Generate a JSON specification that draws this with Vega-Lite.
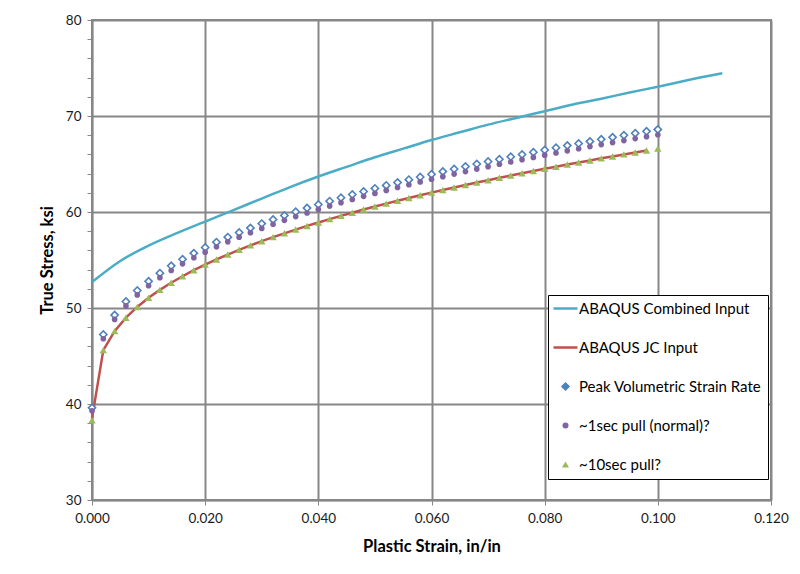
{
  "$schema": "https://vega.github.io/schema/vega-lite/v6.json",
  "width": 679,
  "height": 480,
  "autosize": {"type": "none"},
  "padding": {"left": 92, "top": 20, "right": 29, "bottom": 74},
  "background": "#ffffff",
  "config": {
    "font": "Lato",
    "view": {"stroke": "#878787", "strokeWidth": 2},
    "axis": {
      "domainColor": "#878787",
      "domainWidth": 1.5,
      "tickColor": "#878787",
      "tickSize": 5,
      "tickWidth": 1,
      "gridColor": "#878787",
      "gridWidth": 2,
      "labelFont": "Lato",
      "labelFontSize": 13.5,
      "labelColor": "#1a1a1a",
      "titleFont": "Lato",
      "titleFontSize": 16.5,
      "titleFontWeight": "bold",
      "titleColor": "#000000"
    }
  },
  "datasets": {
    "markers": [
      {"x": 0, "D": 39.6, "P": 39.3, "T": 38.3, "R": 38.5},
      {"x": 0.002, "D": 47.24, "P": 46.8, "T": 45.61, "R": 45.61},
      {"x": 0.004, "D": 49.26, "P": 48.81, "T": 47.59, "R": 47.59},
      {"x": 0.006, "D": 50.68, "P": 50.22, "T": 48.99, "R": 48.99},
      {"x": 0.008, "D": 51.82, "P": 51.36, "T": 50.11, "R": 50.11},
      {"x": 0.01, "D": 52.78, "P": 52.32, "T": 51.06, "R": 51.06},
      {"x": 0.012, "D": 53.63, "P": 53.16, "T": 51.89, "R": 51.89},
      {"x": 0.014, "D": 54.39, "P": 53.91, "T": 52.63, "R": 52.63},
      {"x": 0.016, "D": 55.08, "P": 54.6, "T": 53.31, "R": 53.31},
      {"x": 0.018, "D": 55.71, "P": 55.23, "T": 53.94, "R": 53.94},
      {"x": 0.02, "D": 56.3, "P": 55.82, "T": 54.52, "R": 54.52},
      {"x": 0.022, "D": 56.86, "P": 56.37, "T": 55.06, "R": 55.06},
      {"x": 0.024, "D": 57.38, "P": 56.89, "T": 55.57, "R": 55.57},
      {"x": 0.026, "D": 57.87, "P": 57.38, "T": 56.06, "R": 56.06},
      {"x": 0.028, "D": 58.34, "P": 57.84, "T": 56.52, "R": 56.52},
      {"x": 0.03, "D": 58.79, "P": 58.29, "T": 56.96, "R": 56.96},
      {"x": 0.032, "D": 59.22, "P": 58.72, "T": 57.38, "R": 57.38},
      {"x": 0.034, "D": 59.63, "P": 59.13, "T": 57.78, "R": 57.78},
      {"x": 0.036, "D": 60.02, "P": 59.52, "T": 58.17, "R": 58.17},
      {"x": 0.038, "D": 60.41, "P": 59.9, "T": 58.55, "R": 58.55},
      {"x": 0.04, "D": 60.78, "P": 60.27, "T": 58.91, "R": 58.91},
      {"x": 0.042, "D": 61.13, "P": 60.62, "T": 59.26, "R": 59.26},
      {"x": 0.044, "D": 61.48, "P": 60.97, "T": 59.6, "R": 59.6},
      {"x": 0.046, "D": 61.82, "P": 61.3, "T": 59.93, "R": 59.93},
      {"x": 0.048, "D": 62.14, "P": 61.63, "T": 60.26, "R": 60.26},
      {"x": 0.05, "D": 62.46, "P": 61.94, "T": 60.57, "R": 60.57},
      {"x": 0.052, "D": 62.77, "P": 62.25, "T": 60.87, "R": 60.87},
      {"x": 0.054, "D": 63.07, "P": 62.55, "T": 61.17, "R": 61.17},
      {"x": 0.056, "D": 63.37, "P": 62.84, "T": 61.46, "R": 61.46},
      {"x": 0.058, "D": 63.65, "P": 63.13, "T": 61.74, "R": 61.74},
      {"x": 0.06, "D": 63.93, "P": 63.41, "T": 62.02, "R": 62.02},
      {"x": 0.062, "D": 64.21, "P": 63.68, "T": 62.29, "R": 62.29},
      {"x": 0.064, "D": 64.48, "P": 63.95, "T": 62.55, "R": 62.55},
      {"x": 0.066, "D": 64.74, "P": 64.21, "T": 62.81, "R": 62.81},
      {"x": 0.068, "D": 65.0, "P": 64.47, "T": 63.07, "R": 63.07},
      {"x": 0.07, "D": 65.26, "P": 64.72, "T": 63.31, "R": 63.31},
      {"x": 0.072, "D": 65.5, "P": 64.97, "T": 63.56, "R": 63.56},
      {"x": 0.074, "D": 65.75, "P": 65.21, "T": 63.8, "R": 63.8},
      {"x": 0.076, "D": 65.99, "P": 65.45, "T": 64.04, "R": 64.04},
      {"x": 0.078, "D": 66.23, "P": 65.69, "T": 64.27, "R": 64.27},
      {"x": 0.08, "D": 66.46, "P": 65.92, "T": 64.5, "R": 64.5},
      {"x": 0.082, "D": 66.69, "P": 66.15, "T": 64.72, "R": 64.72},
      {"x": 0.084, "D": 66.92, "P": 66.37, "T": 64.94, "R": 64.94},
      {"x": 0.086, "D": 67.13, "P": 66.59, "T": 65.16, "R": 65.16},
      {"x": 0.088, "D": 67.35, "P": 66.81, "T": 65.37, "R": 65.37},
      {"x": 0.09, "D": 67.57, "P": 67.02, "T": 65.59, "R": 65.59},
      {"x": 0.092, "D": 67.78, "P": 67.23, "T": 65.79, "R": 65.79},
      {"x": 0.094, "D": 67.99, "P": 67.44, "T": 66.0, "R": 66.0},
      {"x": 0.096, "D": 68.2, "P": 67.65, "T": 66.2, "R": 66.2},
      {"x": 0.098, "D": 68.4, "P": 67.85, "T": 66.4, "R": 66.4},
      {"x": 0.1, "D": 68.6, "P": 68.05, "T": 66.6}
    ],
    "combined": [
      {"x": 0, "C": 52.7},
      {"x": 0.005, "C": 54.9},
      {"x": 0.01, "C": 56.5},
      {"x": 0.015, "C": 57.8},
      {"x": 0.02, "C": 59.0},
      {"x": 0.025, "C": 60.2},
      {"x": 0.03, "C": 61.4},
      {"x": 0.035, "C": 62.6},
      {"x": 0.04, "C": 63.7},
      {"x": 0.045, "C": 64.7},
      {"x": 0.05, "C": 65.7},
      {"x": 0.055, "C": 66.6},
      {"x": 0.06, "C": 67.5},
      {"x": 0.065, "C": 68.3},
      {"x": 0.07, "C": 69.1},
      {"x": 0.075, "C": 69.8},
      {"x": 0.08, "C": 70.5},
      {"x": 0.085, "C": 71.2},
      {"x": 0.09, "C": 71.8},
      {"x": 0.095, "C": 72.45},
      {"x": 0.1, "C": 73.05},
      {"x": 0.105, "C": 73.7},
      {"x": 0.1114, "C": 74.45}
    ]
  },
  "resolve": {"axis": {"y": "independent"}},
  "encoding": {
    "x": {
      "field": "x",
      "type": "quantitative",
      "scale": {"domain": [0, 0.12], "nice": false, "zero": false},
      "axis": {
        "title": "Plastic Strain, in/in",
        "values": [0, 0.02, 0.04, 0.06, 0.08, 0.1, 0.12],
        "format": ".3f",
        "labelPadding": 6,
        "titlePadding": 14,
        "labelFlush": false
      }
    },
    "color": {
      "field": "key",
      "type": "nominal",
      "scale": {
        "domain": ["C", "R", "D", "P", "T"],
        "range": ["#4BACC6", "#C0504D", "#4F81BD", "#8064A2", "#9BBB59"]
      },
      "legend": {
        "title": null,
        "orient": "none",
        "legendX": 456,
        "legendY": 275,
        "fillColor": "#ffffff",
        "strokeColor": "#000000",
        "padding": 6,
        "symbolSize": 576,
        "symbolOffset": 4,
        "rowPadding": 23,
        "labelOffset": 6,
        "labelFont": "Lato",
        "labelFontSize": 15,
        "labelColor": "#000000",
        "labelLimit": 300,
        "labelExpr": "datum.value === 'C' ? 'ABAQUS Combined Input' : datum.value === 'R' ? 'ABAQUS JC Input' : datum.value === 'D' ? 'Peak Volumetric Strain Rate' : datum.value === 'P' ? '~1sec pull (normal)?' : '~10sec pull?'",
        "encode": {
          "symbols": {
            "update": {
              "shape": {"signal": "datum.value === 'C' || datum.value === 'R' ? 'stroke' : datum.value === 'D' ? 'diamond' : datum.value === 'P' ? 'circle' : 'triangle-up'"},
              "fill": {"signal": "datum.value === 'D' ? '#ffffff' : datum.value === 'P' ? '#8064A2' : datum.value === 'T' ? '#9BBB59' : 'transparent'"},
              "stroke": {"signal": "datum.value === 'C' ? '#4BACC6' : datum.value === 'R' ? '#C0504D' : datum.value === 'D' ? '#4F81BD' : datum.value === 'P' ? '#8064A2' : '#9BBB59'"},
              "strokeWidth": {"signal": "datum.value === 'C' || datum.value === 'R' ? 2.5 : datum.value === 'D' ? 1.5 : 0"},
              "size": {"signal": "datum.value === 'C' || datum.value === 'R' ? 576 : datum.value === 'D' ? 50 : datum.value === 'T' ? 50 : 36"},
              "opacity": {"value": 1}
            }
          }
        }
      }
    }
  },
  "layer": [
    {
      "data": {"name": "combined"},
      "transform": [{"fold": ["C"], "as": ["key", "value"]}],
      "mark": {"type": "line", "strokeWidth": 2.5, "interpolate": "monotone"},
      "encoding": {
        "y": {
          "field": "value",
          "type": "quantitative",
          "scale": {"domain": [30, 80], "nice": false, "zero": false},
          "axis": {
            "title": "True Stress, ksi",
            "values": [30, 40, 50, 60, 70, 80],
            "labelPadding": 6,
            "titlePadding": 10,
            "labelFlush": false
          }
        }
      }
    },
    {
      "data": {"name": "markers"},
      "transform": [{"fold": ["R"], "as": ["key", "value"]}, {"filter": "datum.value != null"}],
      "mark": {"type": "line", "strokeWidth": 2.5},
      "encoding": {
        "y": {
          "field": "value",
          "type": "quantitative",
          "axis": {
            "orient": "left",
            "title": null,
            "values": [32, 34, 36, 38, 42, 44, 46, 48, 52, 54, 56, 58, 62, 64, 66, 68, 72, 74, 76, 78],
            "labels": false,
            "grid": false,
            "domain": false
          }
        }
      }
    },
    {
      "data": {"name": "markers"},
      "transform": [{"fold": ["D"], "as": ["key", "value"]}],
      "mark": {"type": "point", "shape": "diamond", "filled": false, "fill": "#ffffff", "strokeWidth": 1.6, "size": 52, "opacity": 1},
      "encoding": {"y": {"field": "value", "type": "quantitative", "axis": null}}
    },
    {
      "data": {"name": "markers"},
      "transform": [{"fold": ["P"], "as": ["key", "value"]}],
      "mark": {"type": "point", "shape": "circle", "filled": true, "size": 32, "opacity": 1},
      "encoding": {"y": {"field": "value", "type": "quantitative", "axis": null}}
    },
    {
      "data": {"name": "markers"},
      "transform": [{"fold": ["T"], "as": ["key", "value"]}],
      "mark": {"type": "point", "shape": "triangle-up", "filled": true, "size": 55, "opacity": 1},
      "encoding": {"y": {"field": "value", "type": "quantitative", "axis": null}}
    }
  ]
}
